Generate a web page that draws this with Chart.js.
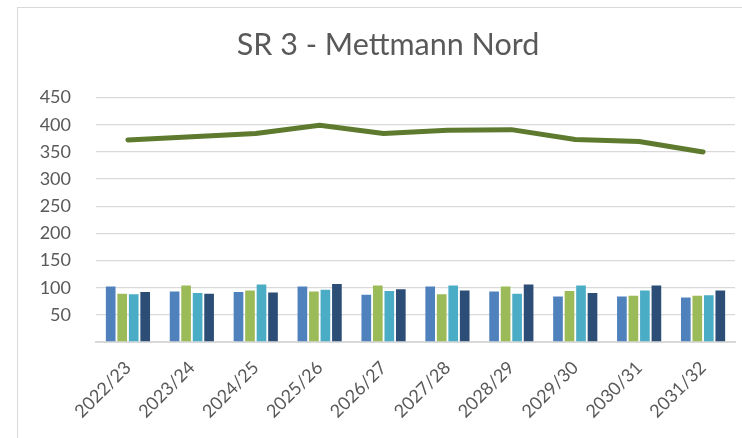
<!DOCTYPE html>
<html>
<head>
<meta charset="utf-8">
<script src="https://cdn.jsdelivr.net/npm/chart.js@4"></script>
<style>
  html, body { margin: 0; padding: 0; background: #fff; overflow: hidden; width: 742px; height: 438px; }
  #frame { position: absolute; left: 17px; top: 7px; width: 800px; height: 500px; border: 1px solid #d9d9d9; }
  #chart { position: absolute; left: 18px; top: 8px; }
</style>
</head>
<body>
<div id="frame"></div>
<canvas id="chart" width="740" height="430"></canvas>
<script>
// Schuljahre
const years = ['2022/23', '2023/24', '2024/25', '2025/26', '2026/27', '2027/28', '2028/29', '2029/30', '2030/31', '2031/32'];

// Werte je Reihe
const serie1 = [102, 93, 92, 102, 87, 102, 93, 84, 84, 82];
const serie2 = [89, 104, 95, 93, 104, 88, 102, 94, 85, 85];
const serie3 = [88, 90, 106, 96, 94, 104, 89, 104, 95, 86];
const serie4 = [92, 89, 91, 107, 97, 95, 106, 90, 104, 95];
const gesamt = [372, 378, 384, 399, 384, 390, 391, 373, 369, 350];

const yTicks = [0, 50, 100, 150, 200, 250, 300, 350, 400, 450];

const textColor = '#595959';
const gridColor = '#d9d9d9';

function bar(label, data, color) {
    return {
        type: 'bar',
        label: label,
        data: data,
        backgroundColor: color,
        borderWidth: 0,
        categoryPercentage: 0.72,
        barPercentage: 0.84,
        order: 2
    };
}

const ctx = document.getElementById('chart').getContext('2d');

new Chart(ctx, {
    type: 'bar',
    data: {
        labels: years,
        datasets: [
            {
                type: 'line',
                label: 'Gesamt',
                data: gesamt,
                borderColor: '#5e7a2e',
                borderWidth: 5,
                pointRadius: 0,
                tension: 0,
                borderCapStyle: 'round',
                borderJoinStyle: 'round',
                order: 1
            },
            bar('Serie 1', serie1, '#4f81bd'),
            bar('Serie 2', serie2, '#9bbb59'),
            bar('Serie 3', serie3, '#4bacc6'),
            bar('Serie 4', serie4, '#2c4d75')
        ]
    },
    options: {
        responsive: false,
        devicePixelRatio: 1,
        animation: false,
        layout: {
            padding: 0
        },
        plugins: {
            legend: { display: false },
            tooltip: { enabled: false },
            title: {
                display: true,
                text: 'SR 3 - Mettmann Nord',
                color: textColor,
                font: { family: 'Lato', size: 30.5, weight: 'normal' },
                padding: { top: 19, bottom: 34 }
            }
        },
        scales: {
            x: {
                grid: { display: false },
                border: { display: true, color: gridColor, width: 2 },
                ticks: {
                    color: textColor,
                    font: { family: 'Lato', size: 18 },
                    minRotation: 45,
                    maxRotation: 45,
                    padding: 7
                },
                afterFit: function (scale) { scale.height = 96; }
            },
            y: {
                min: 0,
                max: 450,
                afterBuildTicks: function (scale) {
                    scale.ticks = yTicks.map(v => ({ value: v }));
                },
                grid: { color: gridColor, lineWidth: 1.3, drawTicks: false },
                border: { display: false },
                ticks: {
                    color: textColor,
                    font: { family: 'Lato', size: 18 },
                    padding: 25,
                    callback: function (value) { return value === 0 ? '' : value; }
                },
                afterFit: function (scale) { scale.width = 78; }
            },
            // leerer Rand rechts, damit der Titel über dem ganzen Diagramm zentriert bleibt
            rand: {
                position: 'right',
                min: 0,
                max: 450,
                grid: { display: false },
                border: { display: false },
                ticks: { display: false },
                afterFit: function (scale) { scale.width = 23; }
            }
        }
    }
});
</script>
</body>
</html>
